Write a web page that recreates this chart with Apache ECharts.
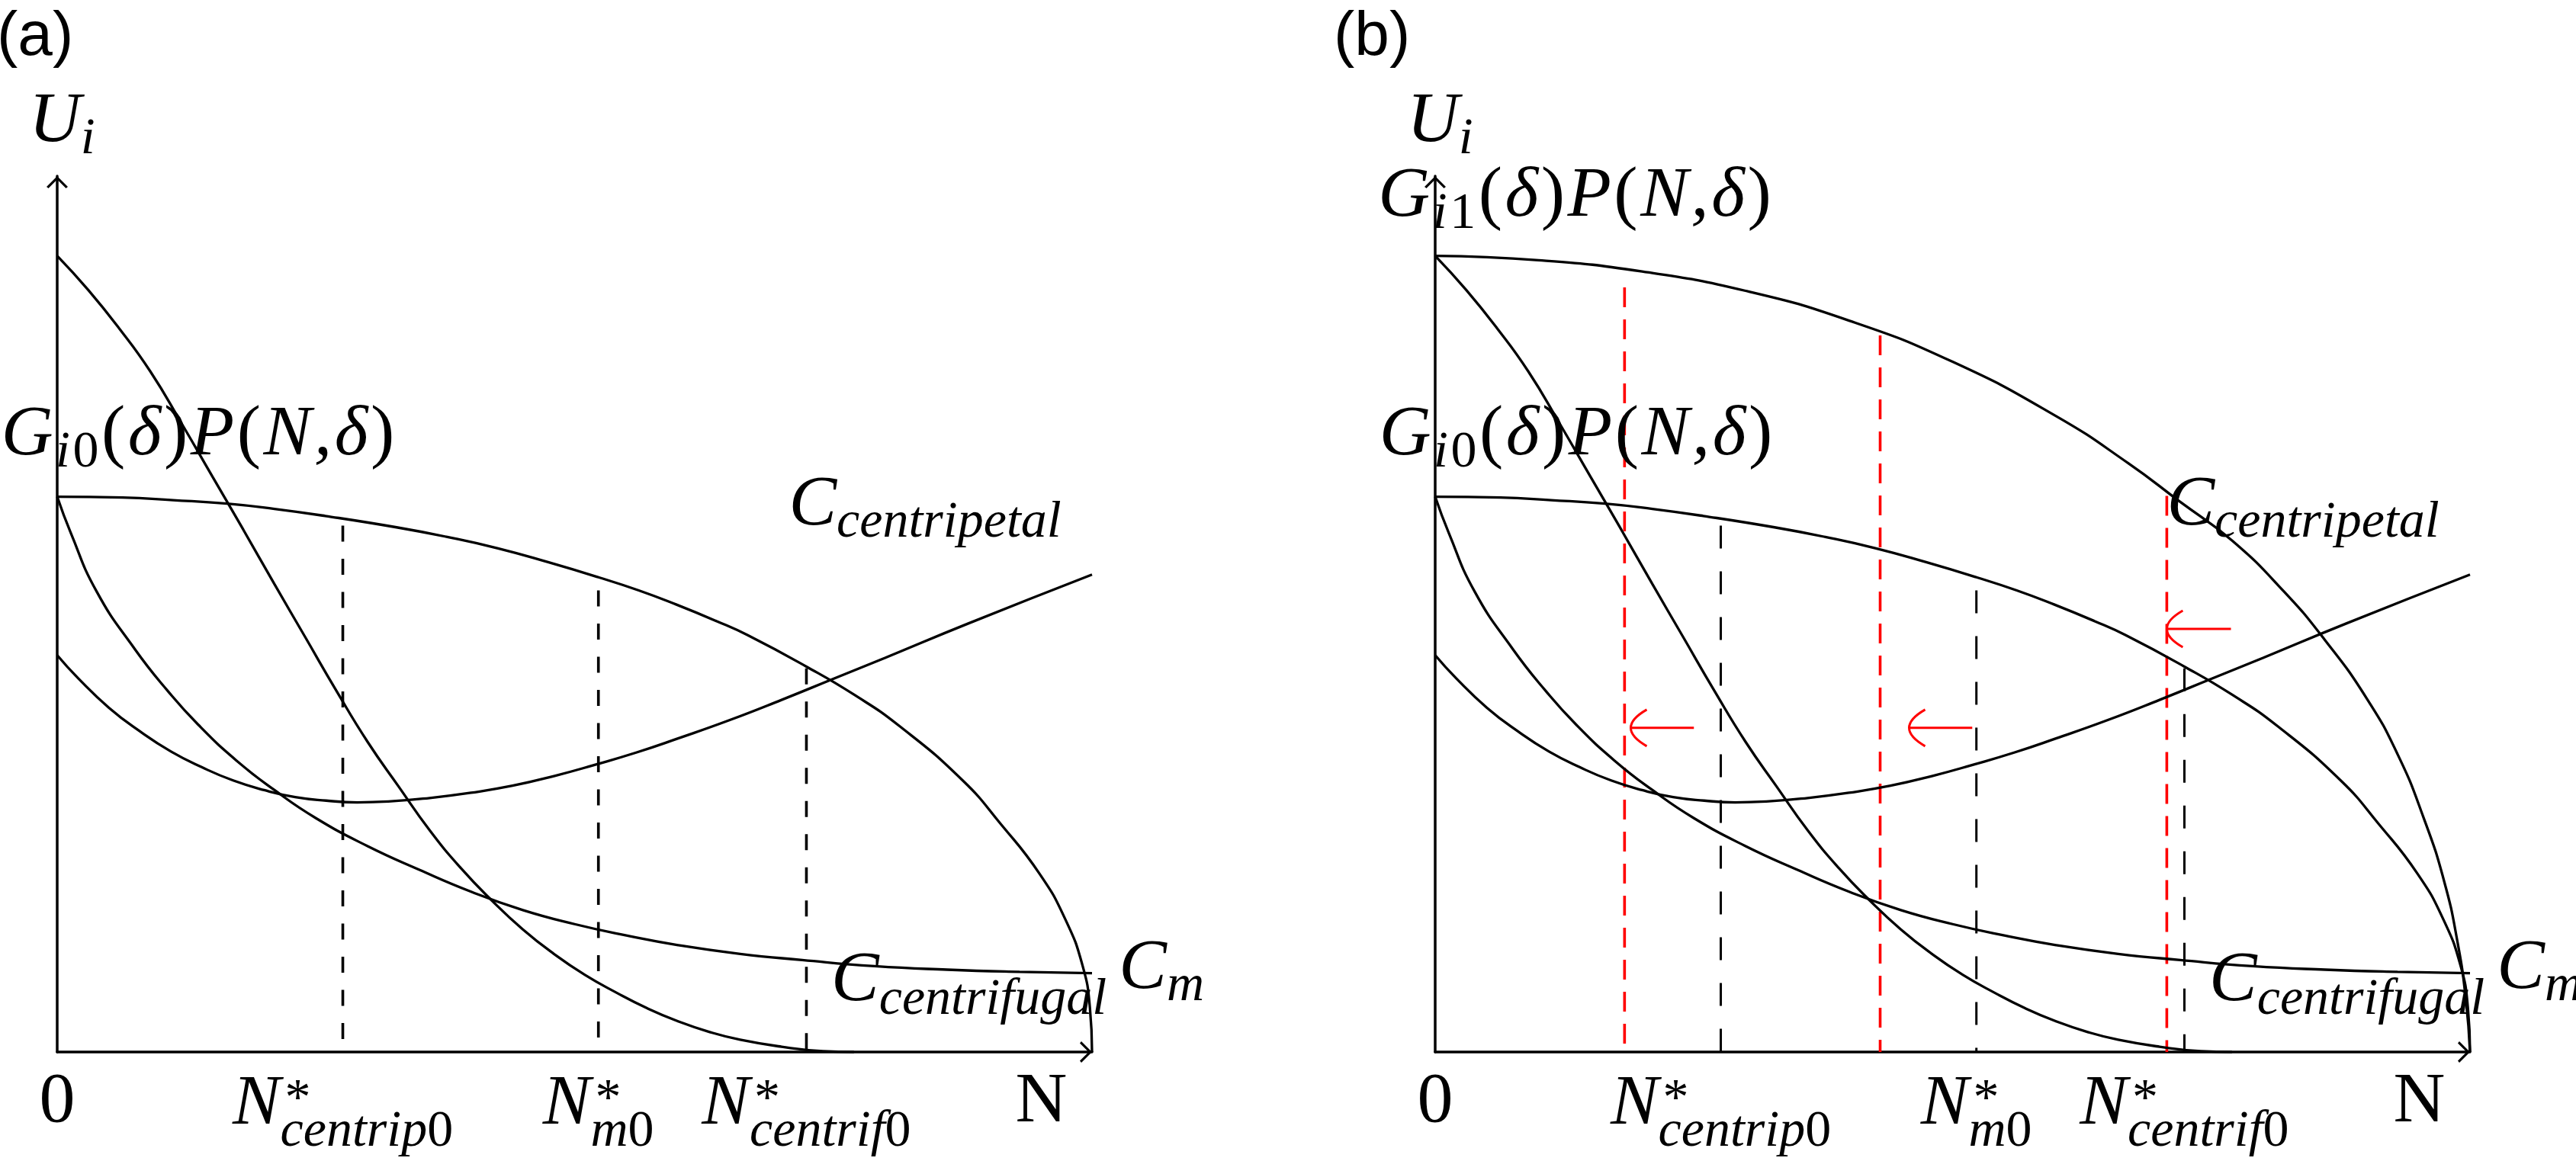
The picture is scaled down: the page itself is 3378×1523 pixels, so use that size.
<!DOCTYPE html>
<html><head><meta charset="utf-8">
<script src="https://cdn.jsdelivr.net/npm/echarts@6/dist/echarts.min.js"></script>
<style>html,body{margin:0;padding:0;background:#fff}#c{width:3378px;height:1523px}</style>
</head><body><div id="c"></div>
<script>
// ---------- data (x: 0..100 = 0..N, y: 0..100 = axis height) ----------
const payoffG0 = [[0,63.4],[6.3,63.3],[11.2,63.0],[16.4,62.6],[21.0,62.0],[25.9,61.2],[32.8,59.9],[37.7,58.8],[42.6,57.5],[47.5,55.9],[52.3,54.2],[56.2,52.7],[59.8,51.1],[63.7,49.2],[66.7,47.6],[72.4,44.0],[77.0,40.8],[81.4,37.2],[87.5,31.0],[91.2,26.0],[94.9,20.4],[97.4,15.2],[99.1,9.8],[99.8,5.0],[100,0]];
const payoffG1 = [[0,90.9],[10,90.4],[20,89.1],[30,86.9],[40,83.5],[50,78.8],[60,72.6],[67,67.2],[72,62.8],[77,58.4],[82,52.6],[86,47.0],[90,40.4],[93,34.0],[95.5,26.8],[97.5,19.5],[98.8,12.5],[99.6,6.0],[100,0]];
const costCentrifugal = [[0,90.9],[3,87.0],[6,82.6],[9,77.7],[12,71.8],[15,65.7],[18,59.6],[21,53.4],[24,47.3],[27,41.2],[30,35.4],[33,30.3],[36,25.3],[39,21.0],[42,17.3],[45,14.0],[48,11.2],[51,8.8],[54,6.8],[57,5.0],[60,3.5],[63,2.3],[66,1.4],[70,0.6],[74,0.1],[77,0]];
const costM = [[0,63.4],[1.3,59.3],[3.8,52.6],[7.5,46.0],[10.7,41.2],[13.6,37.4],[17.3,33.3],[21,29.9],[25,26.7],[30,23.5],[35,20.8],[40,18.3],[45,16.2],[50,14.6],[55,13.3],[60,12.2],[66,11.2],[72,10.5],[79,9.8],[86,9.4],[93,9.15],[100,9.0]];
const costCentripetal = [[0,45.3],[2,42.7],[5,39.3],[8,36.6],[11,34.3],[14,32.5],[17,31.0],[20,29.9],[23,29.1],[26,28.7],[29,28.5],[32,28.6],[36,29.0],[40,29.6],[44,30.4],[48,31.5],[52,32.8],[56,34.2],[60,35.8],[65,37.9],[70,40.2],[75,42.6],[80,45.0],[88,48.9],[100,54.5]];
const eqX0 = [27.6, 52.3, 72.4];      // N*_centrip0, N*_m0, N*_centrif0
const eqTop0 = [60.1, 52.7, 43.8];
const eqX1 = [18.3, 43.0, 70.7];      // shifted equilibria (red)
const eqTop1 = [87.3, 81.8, 63.5];
const arrowFrom = [25.0, 51.9, 76.9];
const arrowTo = [18.9, 45.8, 70.7];
const arrowY = [37.0, 37.0, 48.3];

// ---------- chart ----------
const chart = echarts.init(document.getElementById('c'), null, {width:3378, height:1523});
const ARROW = 'path://M0,14 L14,0 L28,14 L25.5,16 L14,4.5 L2.5,16 Z';
function axis(g){
  return {gridIndex:g, type:'value', min:0, max:100,
    axisLine:{show:true, symbol:['none', ARROW], symbolSize:[28,16], symbolOffset:[0,-8], lineStyle:{color:'#000', width:3.5}},
    axisTick:{show:false}, axisLabel:{show:false}, splitLine:{show:false}};
}
function curve(g, data){
  return {type:'line', xAxisIndex:g, yAxisIndex:g, data, symbol:'none', smooth:0.5,
    clip:false, silent:true, lineStyle:{color:'#000', width:3.3}, z:3};
}
function vline(g, x, top, color, width, dash){
  return {type:'line', xAxisIndex:g, yAxisIndex:g, data:[[x,top],[x,0]], symbol:'none', clip:false, silent:true,
    lineStyle:{color, width, type:dash}, z:2};
}
const series = [];
[0,1].forEach(g => {
  series.push(curve(g, payoffG0), curve(g, costCentrifugal), curve(g, costM), curve(g, costCentripetal));
  eqX0.forEach((x,i) => series.push(vline(g, x, eqTop0[i], '#000', g===0?3.6:3, g===0?[21,22.5]:[30,30])));
});
series.push(curve(1, payoffG1));
eqX1.forEach((x,i) => series.push(vline(1, x, eqTop1[i], '#ff0000', 3.6, [26,16])));
series.push({type:'custom', xAxisIndex:1, yAxisIndex:1, silent:true, z:5,
  data: arrowFrom.map((x,i)=>[x, arrowTo[i], arrowY[i]]),
  encode:{x:[0,1], y:2},
  renderItem(params, api){
    const p1 = api.coord([api.value(0), api.value(2)]);
    const p2 = api.coord([api.value(1), api.value(2)]);
    return {type:'group', children:[
      {type:'line', shape:{x1:p1[0], y1:p1[1], x2:p2[0], y2:p2[1]}, style:{stroke:'#ff0000', lineWidth:3}},
      {type:'bezierCurve', shape:{x1:p2[0]+21, y1:p2[1]-24, x2:p2[0]+21, y2:p2[1]+24, cpx1:p2[0]-21, cpy1:p2[1]},
       style:{stroke:'#ff0000', fill:null, lineWidth:3}}
    ]};
  }
});

chart.setOption({
  animation:false, backgroundColor:'#fff',
  grid:[{left:75, top:231, width:1357, height:1149}, {left:1882, top:231, width:1357, height:1149}],
  xAxis:[axis(0), axis(1)], yAxis:[axis(0), axis(1)],
  series
});

// ---------- math-style text labels ----------
const cv = document.createElement('canvas').getContext('2d');
const SERIF = '"Liberation Serif","DejaVu Serif",serif';
const SANS = '"Liberation Sans",Arial,sans-serif';
const FONTS = {mi:'italic 94px '+SERIF, mr:'94px '+SERIF, si:'italic 68px '+SERIF, sr:'68px '+SERIF, sf:'82px '+SANS};
function textW(t,f){ cv.font=f; return cv.measureText(t).width; }
function midToBase(f){
  cv.font=f; cv.textBaseline='alphabetic'; const a=cv.measureText('H').fontBoundingBoxAscent;
  cv.textBaseline='middle'; const b=cv.measureText('H').fontBoundingBoxAscent; cv.textBaseline='alphabetic';
  if (typeof a==='number' && typeof b==='number') return a-b;
  return parseFloat(f.match(/(\d+)px/)[1])*0.32;
}
const payoffParts = sub => [['G','mi'],['i','si',16],[sub,'sr',16],['(','mr'],['δ','mi'],[')','mr'],['P','mi'],['(','mr'],['N','mi'],[',','mi'],['δ','mi'],[')','mr']];
const common = [
  {x:-2.73, y:104.0, parts:[['U','mi'],['i','si',16]]},
  {x:-5.4, y:68.2, gap:3.5, parts:payoffParts('0')},
  {x:70.7, y:60.2, parts:[['C','mi'],['centripetal','si',16]]},
  {x:74.8, y:5.9, parts:[['C','mi'],['centrifugal','si',18]]},
  {x:102.6, y:7.3, parts:[['C','mi'],['m','si',16]]},
  {x:0, y:-7.9, align:'center', parts:[['0','mr']]},
  {x:95.1, y:-7.9, align:'center', parts:[['N','mr']]},
  {x:eqX0[0], y:-8.2, align:'center', parts:[['N','mi'],['*','sr',-13,'stack',6],['centrip','si',29],['0','sr',29]]},
  {x:eqX0[1], y:-8.2, align:'center', parts:[['N','mi'],['*','sr',-13,'stack',6],['m','si',29],['0','sr',29]]},
  {x:eqX0[2], y:-8.2, align:'center', parts:[['N','mi'],['*','sr',-13,'stack',6],['centrif','si',29],['0','sr',29]]}
];
const panelOnly = [
  [{x:-5.82, y:113.8, parts:[['(a)','sf']]}],
  [{x:-9.8, y:113.8, parts:[['(b)','sf']]},
   {x:-5.5, y:95.5, gap:3.5, parts:payoffParts('1')}]
];
function buildLabel(g, spec){
  const gap = spec.gap || 0;
  const parts = spec.parts.map(p=>({t:p[0], f:FONTS[p[1]], dy:p[2]||0, stack:p[3]==='stack', dx:p[4]||0}));
  let total = 0;
  parts.forEach(p=>{ p.w = textW(p.t,p.f) + gap; if(!p.stack) total += p.w; });
  const o = chart.convertToPixel({gridIndex:g}, [spec.x, spec.y]);
  let x = o[0] - (spec.align==='center' ? total/2 : 0);
  const els = [];
  parts.forEach(p=>{
    els.push({type:'text', x:x+p.dx, y:o[1]+p.dy-midToBase(p.f), silent:true, z:100,
      style:{text:p.t, font:p.f, fill:'#000', align:'left', verticalAlign:'middle'}});
    if(!p.stack) x += p.w;
  });
  return els;
}
let elements = [];
[0,1].forEach(g=>{
  common.concat(panelOnly[g]).forEach(s=>{ elements = elements.concat(buildLabel(g,s)); });
});
chart.setOption({graphic:{elements}});
</script></body></html>
